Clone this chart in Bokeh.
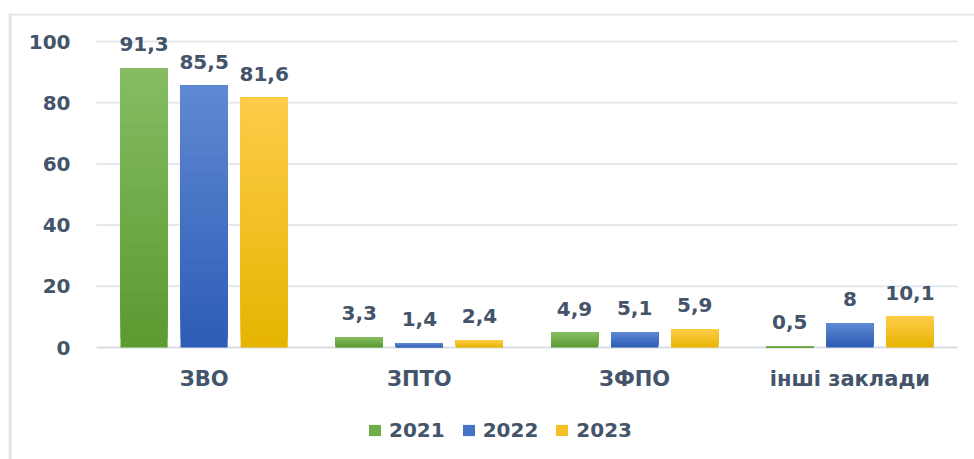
from bokeh.plotting import figure
from bokeh.models import (ColumnDataSource, Legend, LegendItem, FixedTicker, Range1d,
                          BoxAnnotation, Label)
from bokeh.transform import dodge
from bokeh.embed import file_html
from bokeh.resources import INLINE

categories = ["ЗВО", "ЗПТО", "ЗФПО", "інші заклади"]
years = ["2021", "2022", "2023"]
v2021 = [91.3, 3.3, 4.9, 0.5]
v2022 = [85.5, 1.4, 5.1, 8]
v2023 = [81.6, 2.4, 5.9, 10.1]
y_ticks = [0, 20, 40, 60, 80, 100]
title_text = "закладів (у%)"

series = [v2021, v2022, v2023]
top_colors = ["#86bd62", "#6089d3", "#ffcc4a"]
bottom_colors = ["#5a9a30", "#2c5cb6", "#e6b400"]
offsets = [-0.279, 0.0, 0.279]
BAR_W = 0.219
TXT = "#44546a"
BORDER = "#dfe3ea"
GRID = "#e4e7ec"
FONT = "DejaVu Sans"
N = 30
W, H = 974, 459

# layout (pixels): plot area spans x 96..957, value 0 at y=347, 3.06 px per percent
CAT_PX = 215.25
PX_PER_UNIT = 3.06
X0, X1 = -(96 - 8) / CAT_PX, (974 - 96) / CAT_PX
Y0, Y1 = -(459 - 347) / PX_PER_UNIT, (347 - 13) / PX_PER_UNIT

centers = [i + 0.5 for i in range(len(categories))]
n_cat = len(categories)


def hexrgb(h):
    h = h.lstrip("#")
    return tuple(int(h[i:i + 2], 16) for i in (0, 2, 4))


def mix(c1, c2, t):
    a, b = hexrgb(c1), hexrgb(c2)
    return "#%02x%02x%02x" % tuple(int(round(a[i] + (b[i] - a[i]) * t)) for i in range(3))


p = figure(x_range=Range1d(X0, X1), y_range=Range1d(Y0, Y1),
           width=W, height=H, output_backend="svg", toolbar_location=None,
           min_border_left=8, min_border_right=0, min_border_top=13, min_border_bottom=0)
p.outline_line_color = None
p.background_fill_color = "white"
p.border_fill_color = "white"
p.xgrid.visible = False
p.ygrid.visible = False

# horizontal gridlines across the category area
grid_src = ColumnDataSource(dict(y=y_ticks, x0=[0] * len(y_ticks), x1=[n_cat] * len(y_ticks),
                                 color=["#d9dde3" if t == 0 else GRID for t in y_ticks]))
p.segment(x0="x0", x1="x1", y0="y", y1="y", line_color="color", line_width=2,
          source=grid_src)

legend_items = []
for si, vals in enumerate(series):
    # vertical gradient: overlapping slices, each from a fraction of the value up to the value
    xs, bots, tops, cols = [], [], [], []
    for k in range(N):
        for c, v in zip(centers, vals):
            xs.append(c)
            bots.append(v * k / N)
            tops.append(v)
            cols.append(mix(bottom_colors[si], top_colors[si], (k + 0.5) / N))
    src = ColumnDataSource(dict(xc=xs, bottom=bots, top=tops, color=cols))
    r = p.vbar(x=dodge("xc", offsets[si]), bottom="bottom", top="top",
               width=BAR_W, fill_color="color", line_color=None, source=src)
    legend_items.append(LegendItem(label=years[si], renderers=[r],
                                   index=(N // 2) * n_cat))

    lab_src = ColumnDataSource(dict(xc=centers, val=vals,
                                    label=[f"{v:g}".replace(".", ",") for v in vals]))
    p.text(x=dodge("xc", offsets[si]), y="val", text="label",
           source=lab_src, text_align="center", text_baseline="bottom", y_offset=-17,
           text_font={"value": FONT}, text_font_style="bold", text_font_size="20px",
           text_color=TXT)

p.yaxis.fixed_location = 0
p.yaxis.ticker = FixedTicker(ticks=y_ticks)
p.yaxis.axis_line_color = None
p.yaxis.major_tick_line_color = None
p.yaxis.minor_tick_line_color = None
p.yaxis.major_tick_out = 0
p.yaxis.major_tick_in = 0
p.yaxis.major_label_standoff = 26
p.yaxis.major_label_text_font = FONT
p.yaxis.major_label_text_font_style = "bold"
p.yaxis.major_label_text_font_size = "20px"
p.yaxis.major_label_text_color = TXT

p.xaxis.fixed_location = 0
p.xaxis.ticker = FixedTicker(ticks=centers)
p.xaxis.major_label_overrides = {c: name for c, name in zip(centers, categories)}
p.xaxis.axis_line_color = None
p.xaxis.major_tick_line_color = None
p.xaxis.minor_tick_line_color = None
p.xaxis.major_tick_out = 0
p.xaxis.major_tick_in = 0
p.xaxis.major_label_standoff = 19
p.xaxis.major_label_text_font = FONT
p.xaxis.major_label_text_font_style = "bold"
p.xaxis.major_label_text_font_size = "21px"
p.xaxis.major_label_text_color = TXT

legend = Legend(items=legend_items, orientation="horizontal", location=(359, 17),
                label_text_font=FONT, label_text_font_style="bold",
                label_text_font_size="20px", label_text_color=TXT,
                glyph_width=15, glyph_height=14, label_standoff=7, spacing=16,
                border_line_color=None, background_fill_alpha=0, padding=0, margin=0)
p.add_layout(legend)

# chart-area border (left and top edges)
p.add_layout(BoxAnnotation(right=X0 + 3 / CAT_PX, fill_color=BORDER, fill_alpha=1,
                           line_color=None))
p.add_layout(BoxAnnotation(bottom=Y1 - 2 / PX_PER_UNIT, fill_color=BORDER, fill_alpha=1,
                           line_color=None))

# title, mostly above the visible page (only its lower part shows)
p.add_layout(Label(x=(499 - 96) / CAT_PX, y=Y1 + (13 - 12) / PX_PER_UNIT, text=title_text,
                   text_align="center", text_baseline="bottom",
                   text_font="Liberation Serif", text_font_style="bold italic",
                   text_font_size="36px", text_color="black"))

open("out.html", "w").write(file_html(p, INLINE))
